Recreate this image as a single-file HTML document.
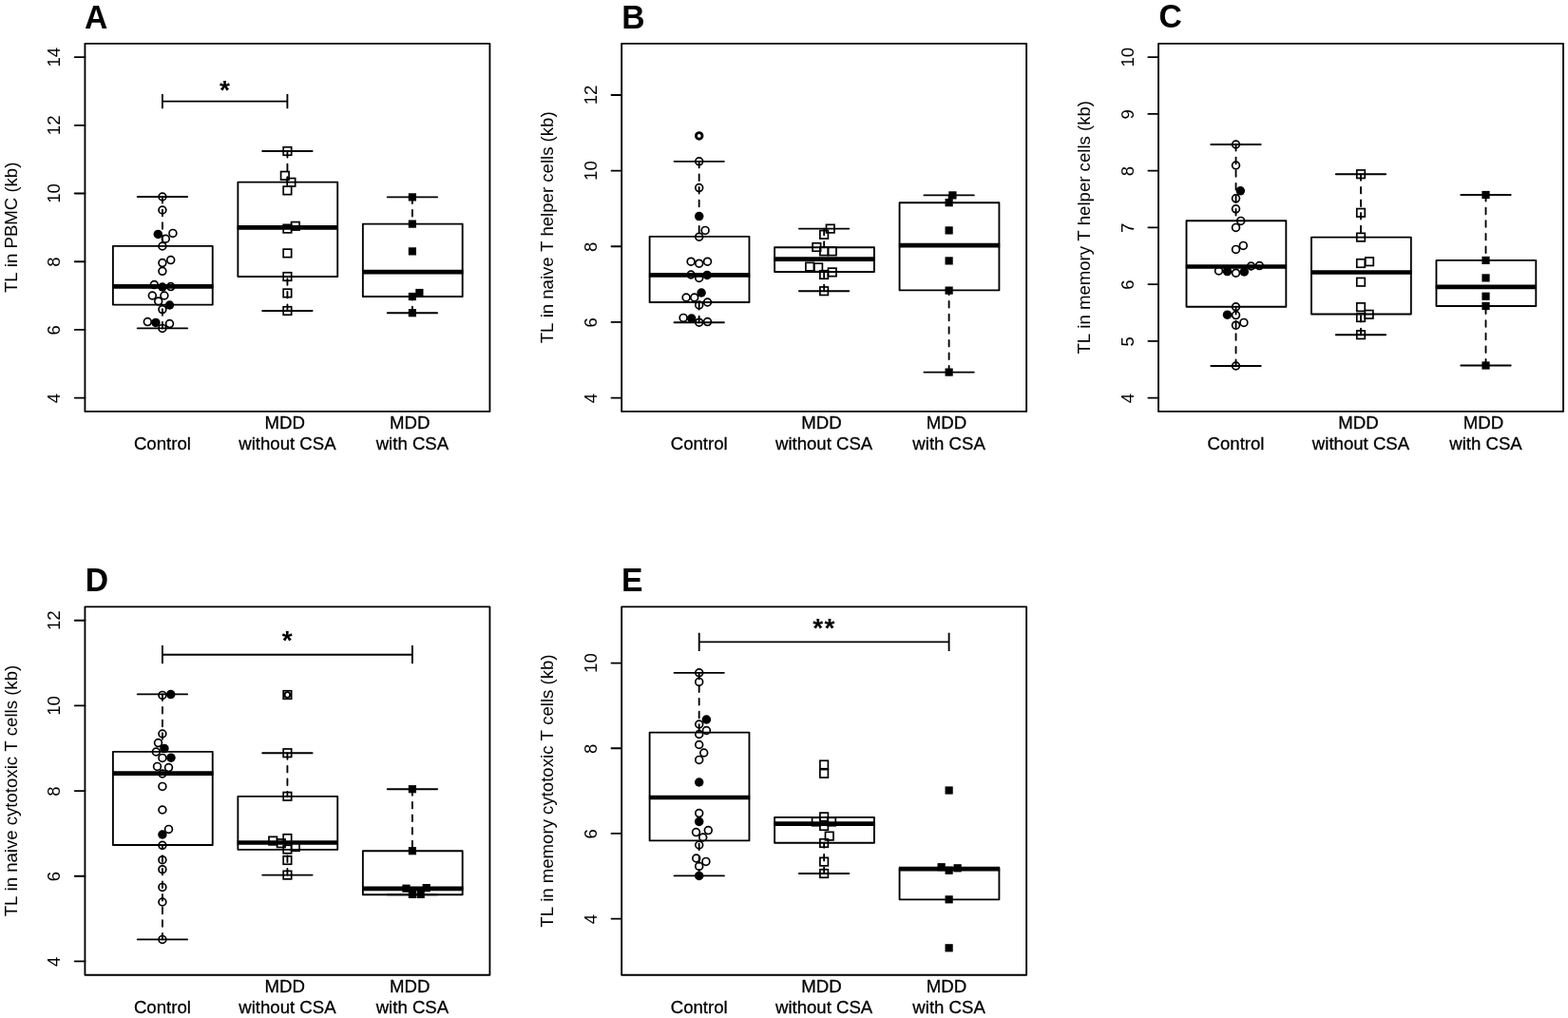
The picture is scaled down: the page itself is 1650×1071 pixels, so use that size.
<!DOCTYPE html>
<html lang="en">
<head>
<meta charset="utf-8">
<title>Telomere length box plots</title>
<style>
html,body{margin:0;padding:0;background:#fff;}
svg{display:block;}
.s{fill:none;stroke:#000;stroke-width:1.85;stroke-linejoin:round;}
.p{fill:none;stroke:#000;stroke-width:1.7;}
.l{fill:none;stroke:#000;stroke-width:1.85;stroke-linecap:butt;}
.d{fill:none;stroke:#000;stroke-width:1.85;stroke-dasharray:6.6 7.0;stroke-linecap:round;}
.r{fill:none;stroke:#000;stroke-width:1.85;stroke-linecap:round;}
.t{font-kerning:none;font-family:"Liberation Sans",Arial,Helvetica,sans-serif;font-size:18.6px;fill:#000;}
.m{text-anchor:middle;}
.h{stroke:#000;stroke-width:0.28px;}
.pl{font-family:"Liberation Sans",Arial,Helvetica,sans-serif;font-weight:bold;font-size:33.7px;fill:#000;}
.st{font-family:"Liberation Sans",Arial,Helvetica,sans-serif;font-weight:bold;font-size:28px;fill:#000;}
</style>
</head>
<body>
<svg width="1650" height="1071" viewBox="0 0 1650 1071">
<rect x="0" y="0" width="1650" height="1071" fill="#fff"/>
<g>
<text transform="translate(88.92,29.80) scale(1,1.025)" class="pl">A</text>
<rect x="89.42" y="45.8" width="426.0" height="387.1" class="s" stroke-linejoin="round"/>
<line x1="78.77" y1="60.14" x2="89.42" y2="60.14" class="r"/>
<text transform="translate(62.92,60.14) rotate(-90) scale(1,1.03)" class="t m">14</text>
<line x1="78.77" y1="131.83" x2="89.42" y2="131.83" class="r"/>
<text transform="translate(62.92,131.83) rotate(-90) scale(1,1.03)" class="t m">12</text>
<line x1="78.77" y1="203.51" x2="89.42" y2="203.51" class="r"/>
<text transform="translate(62.92,203.51) rotate(-90) scale(1,1.03)" class="t m">10</text>
<line x1="78.77" y1="275.2" x2="89.42" y2="275.2" class="r"/>
<text transform="translate(62.92,275.65) rotate(-90) scale(1,1.03)" class="t m">8</text>
<line x1="78.77" y1="346.88" x2="89.42" y2="346.88" class="r"/>
<text transform="translate(62.92,347.33) rotate(-90) scale(1,1.03)" class="t m">6</text>
<line x1="78.77" y1="418.56" x2="89.42" y2="418.56" class="r"/>
<text transform="translate(62.92,419.01) rotate(-90) scale(1,1.03)" class="t m">4</text>
<text transform="translate(17.77,239.3) rotate(-90) scale(1,1.03)" class="t m">TL in PBMC (kb)</text>
<text transform="translate(170.9,473.4) scale(1,1.03)" class="t m h">Control</text>
<text transform="translate(299.8,451.0) scale(1,1.03)" class="t m h">MDD</text>
<text transform="translate(302.4,473.4) scale(1,1.03)" class="t m h">without CSA</text>
<text transform="translate(431.3,451.0) scale(1,1.03)" class="t m h">MDD</text>
<text transform="translate(433.9,473.4) scale(1,1.03)" class="t m h">with CSA</text>
<line x1="170.94" y1="207" x2="170.94" y2="258.8" class="d"/>
<line x1="170.94" y1="345.4" x2="170.94" y2="320.6" class="d"/>
<line x1="144.7" y1="207" x2="197.1" y2="207" class="r"/>
<line x1="144.7" y1="345.4" x2="197.1" y2="345.4" class="r"/>
<rect x="118.89" y="258.8" width="104.84" height="61.8" class="s" stroke-linejoin="round"/>
<line x1="118.17" y1="301.4" x2="224.46" y2="301.4" stroke="#000" stroke-width="4.7"/>
<line x1="302.42" y1="159" x2="302.42" y2="191.6" class="d"/>
<line x1="302.42" y1="327" x2="302.42" y2="291" class="d"/>
<line x1="276.2" y1="159" x2="328.6" y2="159" class="r"/>
<line x1="276.2" y1="327" x2="328.6" y2="327" class="r"/>
<rect x="250.37" y="191.6" width="104.84" height="99.4" class="s" stroke-linejoin="round"/>
<line x1="249.64" y1="239.4" x2="355.94" y2="239.4" stroke="#000" stroke-width="4.7"/>
<line x1="433.9" y1="207.4" x2="433.9" y2="235.6" class="d"/>
<line x1="433.9" y1="329.2" x2="433.9" y2="312" class="d"/>
<line x1="407.7" y1="207.4" x2="460.1" y2="207.4" class="r"/>
<line x1="407.7" y1="329.2" x2="460.1" y2="329.2" class="r"/>
<rect x="381.85" y="235.6" width="104.84" height="76.4" class="s" stroke-linejoin="round"/>
<line x1="381.12" y1="286.2" x2="487.42" y2="286.2" stroke="#000" stroke-width="4.7"/>
<circle cx="170.9" cy="207.0" r="3.9" class="p"/>
<circle cx="170.9" cy="221.0" r="3.9" class="p"/>
<circle cx="166.3" cy="246.4" r="4.75" fill="#000"/>
<circle cx="181.9" cy="245.4" r="3.9" class="p"/>
<circle cx="174.3" cy="251.2" r="3.9" class="p"/>
<circle cx="170.9" cy="259.0" r="3.9" class="p"/>
<circle cx="179.7" cy="273.6" r="3.9" class="p"/>
<circle cx="170.9" cy="276.6" r="3.9" class="p"/>
<circle cx="170.9" cy="285.3" r="3.9" class="p"/>
<circle cx="162.3" cy="299.6" r="3.9" class="p"/>
<circle cx="170.9" cy="302.0" r="4.75" fill="#000"/>
<circle cx="179.7" cy="301.6" r="3.9" class="p"/>
<circle cx="160.3" cy="311.0" r="3.9" class="p"/>
<circle cx="172.9" cy="311.0" r="3.9" class="p"/>
<circle cx="166.7" cy="317.0" r="3.9" class="p"/>
<circle cx="178.5" cy="321.0" r="4.75" fill="#000"/>
<circle cx="170.9" cy="325.6" r="3.9" class="p"/>
<circle cx="155.3" cy="338.6" r="3.9" class="p"/>
<circle cx="163.9" cy="339.4" r="4.75" fill="#000"/>
<circle cx="178.5" cy="340.6" r="3.9" class="p"/>
<circle cx="170.9" cy="345.4" r="3.9" class="p"/>
<rect x="298.17" y="154.75" width="8.5" height="8.5" class="p"/>
<rect x="295.57" y="180.55" width="8.5" height="8.5" class="p"/>
<rect x="302.17" y="187.55" width="8.5" height="8.5" class="p"/>
<rect x="298.17" y="196.15" width="8.5" height="8.5" class="p"/>
<rect x="306.57" y="233.55" width="8.5" height="8.5" class="p"/>
<rect x="298.17" y="236.35" width="8.5" height="8.5" class="p"/>
<rect x="298.17" y="262.15" width="8.5" height="8.5" class="p"/>
<rect x="298.17" y="286.75" width="8.5" height="8.5" class="p"/>
<rect x="298.17" y="304.15" width="8.5" height="8.5" class="p"/>
<rect x="298.17" y="322.75" width="8.5" height="8.5" class="p"/>
<rect x="429.80" y="203.30" width="8.2" height="8.2" fill="#000"/>
<rect x="429.80" y="231.50" width="8.2" height="8.2" fill="#000"/>
<rect x="429.80" y="260.30" width="8.2" height="8.2" fill="#000"/>
<rect x="429.80" y="307.90" width="8.2" height="8.2" fill="#000"/>
<rect x="437.30" y="303.90" width="8.2" height="8.2" fill="#000"/>
<rect x="429.80" y="325.10" width="8.2" height="8.2" fill="#000"/>
<path d="M170.9 98.89999999999999V114.3M170.9 106.6H302.4M302.4 98.89999999999999V114.3" class="l"/>
<text x="236.43" y="103.8" class="st m">*</text>
</g>
<g>
<text transform="translate(654.34,29.80) scale(1,1.025)" class="pl">B</text>
<rect x="654.14" y="45.8" width="426.0" height="387.1" class="s" stroke-linejoin="round"/>
<line x1="643.49" y1="99.96" x2="654.14" y2="99.96" class="r"/>
<text transform="translate(627.64,99.96) rotate(-90) scale(1,1.03)" class="t m">12</text>
<line x1="643.49" y1="179.61" x2="654.14" y2="179.61" class="r"/>
<text transform="translate(627.64,179.61) rotate(-90) scale(1,1.03)" class="t m">10</text>
<line x1="643.49" y1="259.26" x2="654.14" y2="259.26" class="r"/>
<text transform="translate(627.64,259.71) rotate(-90) scale(1,1.03)" class="t m">8</text>
<line x1="643.49" y1="338.91" x2="654.14" y2="338.91" class="r"/>
<text transform="translate(627.64,339.36) rotate(-90) scale(1,1.03)" class="t m">6</text>
<line x1="643.49" y1="418.56" x2="654.14" y2="418.56" class="r"/>
<text transform="translate(627.64,419.01) rotate(-90) scale(1,1.03)" class="t m">4</text>
<text transform="translate(582.49,239.3) rotate(-90) scale(1,1.03)" class="t m">TL in naive T helper cells (kb)</text>
<text transform="translate(735.7,473.4) scale(1,1.03)" class="t m h">Control</text>
<text transform="translate(864.5,451.0) scale(1,1.03)" class="t m h">MDD</text>
<text transform="translate(867.1,473.4) scale(1,1.03)" class="t m h">without CSA</text>
<text transform="translate(996.0,451.0) scale(1,1.03)" class="t m h">MDD</text>
<text transform="translate(998.6,473.4) scale(1,1.03)" class="t m h">with CSA</text>
<line x1="735.66" y1="169.8" x2="735.66" y2="248.8" class="d"/>
<line x1="735.66" y1="339.2" x2="735.66" y2="318" class="d"/>
<line x1="709.5" y1="169.8" x2="761.9" y2="169.8" class="r"/>
<line x1="709.5" y1="339.2" x2="761.9" y2="339.2" class="r"/>
<rect x="683.61" y="248.8" width="104.84" height="69.2" class="s" stroke-linejoin="round"/>
<line x1="682.89" y1="289.4" x2="789.17" y2="289.4" stroke="#000" stroke-width="4.7"/>
<line x1="867.14" y1="240.6" x2="867.14" y2="260.2" class="d"/>
<line x1="867.14" y1="306.2" x2="867.14" y2="286" class="d"/>
<line x1="840.9" y1="240.6" x2="893.3" y2="240.6" class="r"/>
<line x1="840.9" y1="306.2" x2="893.3" y2="306.2" class="r"/>
<rect x="815.09" y="260.2" width="104.84" height="25.8" class="s" stroke-linejoin="round"/>
<line x1="814.37" y1="272.6" x2="920.65" y2="272.6" stroke="#000" stroke-width="4.7"/>
<line x1="998.62" y1="205.4" x2="998.62" y2="213.2" class="d"/>
<line x1="998.62" y1="391.6" x2="998.62" y2="305.4" class="d"/>
<line x1="972.4" y1="205.4" x2="1024.8" y2="205.4" class="r"/>
<line x1="972.4" y1="391.6" x2="1024.8" y2="391.6" class="r"/>
<rect x="946.57" y="213.2" width="104.84" height="92.2" class="s" stroke-linejoin="round"/>
<line x1="945.85" y1="258.2" x2="1052.13" y2="258.2" stroke="#000" stroke-width="4.7"/>
<circle cx="735.7" cy="142.9" r="2.85" fill="none" stroke="#000" stroke-width="1.9"/>
<circle cx="735.7" cy="142.9" r="3.9" class="p"/>
<circle cx="735.7" cy="169.8" r="3.9" class="p"/>
<circle cx="735.7" cy="197.6" r="3.9" class="p"/>
<circle cx="735.7" cy="227.6" r="4.75" fill="#000"/>
<circle cx="742.1" cy="242.4" r="3.9" class="p"/>
<circle cx="735.7" cy="249.2" r="3.9" class="p"/>
<circle cx="727.1" cy="275.2" r="3.9" class="p"/>
<circle cx="735.7" cy="277.2" r="3.9" class="p"/>
<circle cx="744.5" cy="275.2" r="3.9" class="p"/>
<circle cx="727.1" cy="289.0" r="3.9" class="p"/>
<circle cx="735.7" cy="292.4" r="3.9" class="p"/>
<circle cx="744.1" cy="289.4" r="4.75" fill="#000"/>
<circle cx="738.1" cy="308.0" r="4.75" fill="#000"/>
<circle cx="722.1" cy="313.0" r="3.9" class="p"/>
<circle cx="730.7" cy="313.0" r="3.9" class="p"/>
<circle cx="744.5" cy="318.0" r="3.9" class="p"/>
<circle cx="735.7" cy="321.0" r="3.9" class="p"/>
<circle cx="719.1" cy="334.4" r="3.9" class="p"/>
<circle cx="727.7" cy="335.0" r="4.75" fill="#000"/>
<circle cx="735.7" cy="339.2" r="3.9" class="p"/>
<circle cx="744.5" cy="338.6" r="3.9" class="p"/>
<rect x="869.49" y="236.35" width="8.5" height="8.5" class="p"/>
<rect x="862.89" y="242.55" width="8.5" height="8.5" class="p"/>
<rect x="855.09" y="255.75" width="8.5" height="8.5" class="p"/>
<rect x="862.89" y="260.15" width="8.5" height="8.5" class="p"/>
<rect x="871.49" y="260.15" width="8.5" height="8.5" class="p"/>
<rect x="847.89" y="276.35" width="8.5" height="8.5" class="p"/>
<rect x="856.89" y="277.15" width="8.5" height="8.5" class="p"/>
<rect x="871.49" y="282.15" width="8.5" height="8.5" class="p"/>
<rect x="862.89" y="284.75" width="8.5" height="8.5" class="p"/>
<rect x="862.89" y="301.95" width="8.5" height="8.5" class="p"/>
<rect x="998.32" y="201.30" width="8.2" height="8.2" fill="#000"/>
<rect x="994.52" y="209.10" width="8.2" height="8.2" fill="#000"/>
<rect x="994.52" y="238.30" width="8.2" height="8.2" fill="#000"/>
<rect x="994.52" y="270.30" width="8.2" height="8.2" fill="#000"/>
<rect x="994.52" y="301.50" width="8.2" height="8.2" fill="#000"/>
<rect x="994.52" y="387.50" width="8.2" height="8.2" fill="#000"/>
</g>
<g>
<text transform="translate(1219.42,29.30) scale(1,1.025)" class="pl">C</text>
<rect x="1219.02" y="45.8" width="426.0" height="387.1" class="s" stroke-linejoin="round"/>
<line x1="1208.37" y1="60.14" x2="1219.02" y2="60.14" class="r"/>
<text transform="translate(1192.52,60.14) rotate(-90) scale(1,1.03)" class="t m">10</text>
<line x1="1208.37" y1="119.88" x2="1219.02" y2="119.88" class="r"/>
<text transform="translate(1192.52,120.33) rotate(-90) scale(1,1.03)" class="t m">9</text>
<line x1="1208.37" y1="179.62" x2="1219.02" y2="179.62" class="r"/>
<text transform="translate(1192.52,180.07) rotate(-90) scale(1,1.03)" class="t m">8</text>
<line x1="1208.37" y1="239.35" x2="1219.02" y2="239.35" class="r"/>
<text transform="translate(1192.52,239.80) rotate(-90) scale(1,1.03)" class="t m">7</text>
<line x1="1208.37" y1="299.09" x2="1219.02" y2="299.09" class="r"/>
<text transform="translate(1192.52,299.54) rotate(-90) scale(1,1.03)" class="t m">6</text>
<line x1="1208.37" y1="358.83" x2="1219.02" y2="358.83" class="r"/>
<text transform="translate(1192.52,359.28) rotate(-90) scale(1,1.03)" class="t m">5</text>
<line x1="1208.37" y1="418.56" x2="1219.02" y2="418.56" class="r"/>
<text transform="translate(1192.52,419.01) rotate(-90) scale(1,1.03)" class="t m">4</text>
<text transform="translate(1147.37,239.3) rotate(-90) scale(1,1.03)" class="t m">TL in memory T helper cells (kb)</text>
<text transform="translate(1300.5,473.4) scale(1,1.03)" class="t m h">Control</text>
<text transform="translate(1429.4,451.0) scale(1,1.03)" class="t m h">MDD</text>
<text transform="translate(1432.0,473.4) scale(1,1.03)" class="t m h">without CSA</text>
<text transform="translate(1560.9,451.0) scale(1,1.03)" class="t m h">MDD</text>
<text transform="translate(1563.5,473.4) scale(1,1.03)" class="t m h">with CSA</text>
<line x1="1300.54" y1="152" x2="1300.54" y2="232.2" class="d"/>
<line x1="1300.54" y1="385" x2="1300.54" y2="322.7" class="d"/>
<line x1="1274.3" y1="152" x2="1326.7" y2="152" class="r"/>
<line x1="1274.3" y1="385" x2="1326.7" y2="385" class="r"/>
<rect x="1248.49" y="232.2" width="104.84" height="90.5" class="s" stroke-linejoin="round"/>
<line x1="1247.76" y1="280.5" x2="1354.05" y2="280.5" stroke="#000" stroke-width="4.7"/>
<line x1="1432.02" y1="183.2" x2="1432.02" y2="249.6" class="d"/>
<line x1="1432.02" y1="352.2" x2="1432.02" y2="330.5" class="d"/>
<line x1="1405.8" y1="183.2" x2="1458.2" y2="183.2" class="r"/>
<line x1="1405.8" y1="352.2" x2="1458.2" y2="352.2" class="r"/>
<rect x="1379.97" y="249.6" width="104.84" height="80.9" class="s" stroke-linejoin="round"/>
<line x1="1379.24" y1="286.5" x2="1485.53" y2="286.5" stroke="#000" stroke-width="4.7"/>
<line x1="1563.5" y1="205" x2="1563.5" y2="273.9" class="d"/>
<line x1="1563.5" y1="384.5" x2="1563.5" y2="322" class="d"/>
<line x1="1537.3" y1="205" x2="1589.7" y2="205" class="r"/>
<line x1="1537.3" y1="384.5" x2="1589.7" y2="384.5" class="r"/>
<rect x="1511.45" y="273.9" width="104.84" height="48.1" class="s" stroke-linejoin="round"/>
<line x1="1510.72" y1="301.8" x2="1617.01" y2="301.8" stroke="#000" stroke-width="4.7"/>
<circle cx="1300.5" cy="152.0" r="3.9" class="p"/>
<circle cx="1300.5" cy="174.0" r="3.9" class="p"/>
<circle cx="1305.3" cy="200.8" r="4.75" fill="#000"/>
<circle cx="1300.5" cy="208.8" r="3.9" class="p"/>
<circle cx="1300.5" cy="219.8" r="3.9" class="p"/>
<circle cx="1305.7" cy="232.4" r="3.9" class="p"/>
<circle cx="1300.5" cy="239.4" r="3.9" class="p"/>
<circle cx="1308.3" cy="258.4" r="3.9" class="p"/>
<circle cx="1300.5" cy="262.4" r="3.9" class="p"/>
<circle cx="1316.5" cy="280.0" r="3.9" class="p"/>
<circle cx="1325.3" cy="279.6" r="3.9" class="p"/>
<circle cx="1282.5" cy="285.0" r="3.9" class="p"/>
<circle cx="1291.5" cy="285.6" r="4.75" fill="#000"/>
<circle cx="1300.5" cy="287.2" r="3.9" class="p"/>
<circle cx="1309.3" cy="286.0" r="4.75" fill="#000"/>
<circle cx="1300.5" cy="322.8" r="3.9" class="p"/>
<circle cx="1291.5" cy="331.2" r="4.75" fill="#000"/>
<circle cx="1300.5" cy="331.6" r="3.9" class="p"/>
<circle cx="1308.9" cy="339.4" r="3.9" class="p"/>
<circle cx="1300.5" cy="342.2" r="3.9" class="p"/>
<circle cx="1300.5" cy="385.0" r="3.9" class="p"/>
<rect x="1427.77" y="178.95" width="8.5" height="8.5" class="p"/>
<rect x="1427.77" y="219.55" width="8.5" height="8.5" class="p"/>
<rect x="1427.77" y="245.35" width="8.5" height="8.5" class="p"/>
<rect x="1436.77" y="270.95" width="8.5" height="8.5" class="p"/>
<rect x="1427.77" y="272.75" width="8.5" height="8.5" class="p"/>
<rect x="1427.77" y="292.45" width="8.5" height="8.5" class="p"/>
<rect x="1427.77" y="318.85" width="8.5" height="8.5" class="p"/>
<rect x="1436.37" y="326.55" width="8.5" height="8.5" class="p"/>
<rect x="1427.77" y="329.75" width="8.5" height="8.5" class="p"/>
<rect x="1427.77" y="347.95" width="8.5" height="8.5" class="p"/>
<rect x="1559.40" y="200.90" width="8.2" height="8.2" fill="#000"/>
<rect x="1559.40" y="269.80" width="8.2" height="8.2" fill="#000"/>
<rect x="1559.40" y="288.30" width="8.2" height="8.2" fill="#000"/>
<rect x="1559.40" y="307.60" width="8.2" height="8.2" fill="#000"/>
<rect x="1559.40" y="317.90" width="8.2" height="8.2" fill="#000"/>
<rect x="1559.40" y="380.40" width="8.2" height="8.2" fill="#000"/>
</g>
<g>
<text transform="translate(89.82,622.43) scale(1,1.025)" class="pl">D</text>
<rect x="89.42" y="638.43" width="426.0" height="387.3" class="s" stroke-linejoin="round"/>
<line x1="78.77" y1="652.78" x2="89.42" y2="652.78" class="r"/>
<text transform="translate(62.92,652.78) rotate(-90) scale(1,1.03)" class="t m">12</text>
<line x1="78.77" y1="742.44" x2="89.42" y2="742.44" class="r"/>
<text transform="translate(62.92,742.44) rotate(-90) scale(1,1.03)" class="t m">10</text>
<line x1="78.77" y1="832.1" x2="89.42" y2="832.1" class="r"/>
<text transform="translate(62.92,832.55) rotate(-90) scale(1,1.03)" class="t m">8</text>
<line x1="78.77" y1="921.75" x2="89.42" y2="921.75" class="r"/>
<text transform="translate(62.92,922.20) rotate(-90) scale(1,1.03)" class="t m">6</text>
<line x1="78.77" y1="1011.41" x2="89.42" y2="1011.41" class="r"/>
<text transform="translate(62.92,1011.86) rotate(-90) scale(1,1.03)" class="t m">4</text>
<text transform="translate(17.77,832.1) rotate(-90) scale(1,1.03)" class="t m">TL in naive cytotoxic T cells (kb)</text>
<text transform="translate(170.9,1066.3) scale(1,1.03)" class="t m h">Control</text>
<text transform="translate(299.8,1043.9) scale(1,1.03)" class="t m h">MDD</text>
<text transform="translate(302.4,1066.3) scale(1,1.03)" class="t m h">without CSA</text>
<text transform="translate(431.3,1043.9) scale(1,1.03)" class="t m h">MDD</text>
<text transform="translate(433.9,1066.3) scale(1,1.03)" class="t m h">with CSA</text>
<line x1="170.94" y1="730.4" x2="170.94" y2="790.8" class="d"/>
<line x1="170.94" y1="988.4" x2="170.94" y2="889" class="d"/>
<line x1="144.7" y1="730.4" x2="197.1" y2="730.4" class="r"/>
<line x1="144.7" y1="988.4" x2="197.1" y2="988.4" class="r"/>
<rect x="118.89" y="790.8" width="104.84" height="98.2" class="s" stroke-linejoin="round"/>
<line x1="118.17" y1="813.6" x2="224.46" y2="813.6" stroke="#000" stroke-width="4.7"/>
<line x1="302.42" y1="792.2" x2="302.42" y2="837.8" class="d"/>
<line x1="302.42" y1="920.6" x2="302.42" y2="893.8" class="d"/>
<line x1="276.2" y1="792.2" x2="328.6" y2="792.2" class="r"/>
<line x1="276.2" y1="920.6" x2="328.6" y2="920.6" class="r"/>
<rect x="250.37" y="837.8" width="104.84" height="56.0" class="s" stroke-linejoin="round"/>
<line x1="249.64" y1="886.5" x2="355.94" y2="886.5" stroke="#000" stroke-width="4.7"/>
<line x1="433.9" y1="830.2" x2="433.9" y2="895.2" class="d"/>
<line x1="407.7" y1="830.2" x2="460.1" y2="830.2" class="r"/>
<line x1="407.7" y1="941.2" x2="460.1" y2="941.2" class="r"/>
<rect x="381.85" y="895.2" width="104.84" height="46.0" class="s" stroke-linejoin="round"/>
<line x1="381.12" y1="934.8" x2="487.42" y2="934.8" stroke="#000" stroke-width="4.7"/>
<circle cx="302.4" cy="731.0" r="2.85" fill="none" stroke="#000" stroke-width="1.9"/>
<circle cx="170.9" cy="731.4" r="3.9" class="p"/>
<circle cx="179.7" cy="730.6" r="4.75" fill="#000"/>
<circle cx="170.9" cy="772.0" r="3.9" class="p"/>
<circle cx="166.5" cy="781.6" r="3.9" class="p"/>
<circle cx="172.9" cy="787.4" r="4.75" fill="#000"/>
<circle cx="164.3" cy="791.0" r="3.9" class="p"/>
<circle cx="170.9" cy="797.4" r="3.9" class="p"/>
<circle cx="179.9" cy="797.2" r="4.75" fill="#000"/>
<circle cx="165.5" cy="806.4" r="3.9" class="p"/>
<circle cx="177.5" cy="807.6" r="3.9" class="p"/>
<circle cx="170.9" cy="814.0" r="3.9" class="p"/>
<circle cx="170.9" cy="827.4" r="3.9" class="p"/>
<circle cx="170.9" cy="852.0" r="3.9" class="p"/>
<circle cx="177.5" cy="872.4" r="3.9" class="p"/>
<circle cx="170.9" cy="878.0" r="4.75" fill="#000"/>
<circle cx="170.9" cy="889.3" r="3.9" class="p"/>
<circle cx="170.9" cy="904.7" r="3.9" class="p"/>
<circle cx="170.9" cy="914.7" r="3.9" class="p"/>
<circle cx="170.9" cy="933.4" r="3.9" class="p"/>
<circle cx="170.9" cy="949.0" r="3.9" class="p"/>
<circle cx="170.9" cy="988.4" r="3.9" class="p"/>
<rect x="298.17" y="726.75" width="8.5" height="8.5" class="p"/>
<rect x="298.17" y="787.95" width="8.5" height="8.5" class="p"/>
<rect x="298.17" y="833.55" width="8.5" height="8.5" class="p"/>
<rect x="298.17" y="877.75" width="8.5" height="8.5" class="p"/>
<rect x="282.97" y="880.35" width="8.5" height="8.5" class="p"/>
<rect x="291.57" y="882.95" width="8.5" height="8.5" class="p"/>
<rect x="306.57" y="886.75" width="8.5" height="8.5" class="p"/>
<rect x="298.17" y="889.25" width="8.5" height="8.5" class="p"/>
<rect x="298.17" y="900.75" width="8.5" height="8.5" class="p"/>
<rect x="298.17" y="916.35" width="8.5" height="8.5" class="p"/>
<rect x="429.80" y="826.10" width="8.2" height="8.2" fill="#000"/>
<rect x="429.80" y="891.10" width="8.2" height="8.2" fill="#000"/>
<rect x="423.40" y="930.60" width="8.2" height="8.2" fill="#000"/>
<rect x="444.60" y="930.00" width="8.2" height="8.2" fill="#000"/>
<rect x="429.80" y="936.80" width="8.2" height="8.2" fill="#000"/>
<rect x="438.60" y="936.80" width="8.2" height="8.2" fill="#000"/>
<path d="M170.9 679.1V698.3000000000001M170.9 688.7H433.9M433.9 679.1V698.3000000000001" class="l"/>
<text x="302.17" y="682.9" class="st m">*</text>
</g>
<g>
<text transform="translate(654.04,622.43) scale(1,1.025)" class="pl">E</text>
<rect x="654.14" y="638.43" width="426.0" height="387.3" class="s" stroke-linejoin="round"/>
<line x1="643.49" y1="697.61" x2="654.14" y2="697.61" class="r"/>
<text transform="translate(627.64,697.61) rotate(-90) scale(1,1.03)" class="t m">10</text>
<line x1="643.49" y1="787.27" x2="654.14" y2="787.27" class="r"/>
<text transform="translate(627.64,787.72) rotate(-90) scale(1,1.03)" class="t m">8</text>
<line x1="643.49" y1="876.93" x2="654.14" y2="876.93" class="r"/>
<text transform="translate(627.64,877.38) rotate(-90) scale(1,1.03)" class="t m">6</text>
<line x1="643.49" y1="966.58" x2="654.14" y2="966.58" class="r"/>
<text transform="translate(627.64,967.03) rotate(-90) scale(1,1.03)" class="t m">4</text>
<text transform="translate(582.49,832.1) rotate(-90) scale(1,1.03)" class="t m">TL in memory cytotoxic T cells (kb)</text>
<text transform="translate(735.7,1066.3) scale(1,1.03)" class="t m h">Control</text>
<text transform="translate(864.5,1043.9) scale(1,1.03)" class="t m h">MDD</text>
<text transform="translate(867.1,1066.3) scale(1,1.03)" class="t m h">without CSA</text>
<text transform="translate(996.0,1043.9) scale(1,1.03)" class="t m h">MDD</text>
<text transform="translate(998.6,1066.3) scale(1,1.03)" class="t m h">with CSA</text>
<line x1="735.66" y1="707.8" x2="735.66" y2="770.6" class="d"/>
<line x1="735.66" y1="921.4" x2="735.66" y2="884.4" class="d"/>
<line x1="709.5" y1="707.8" x2="761.9" y2="707.8" class="r"/>
<line x1="709.5" y1="921.4" x2="761.9" y2="921.4" class="r"/>
<rect x="683.61" y="770.6" width="104.84" height="113.8" class="s" stroke-linejoin="round"/>
<line x1="682.89" y1="839" x2="789.17" y2="839" stroke="#000" stroke-width="4.7"/>
<line x1="867.14" y1="919" x2="867.14" y2="886.7" class="d"/>
<line x1="840.9" y1="919" x2="893.3" y2="919" class="r"/>
<rect x="815.09" y="859.8" width="104.84" height="26.9" class="s" stroke-linejoin="round"/>
<line x1="814.37" y1="866.7" x2="920.65" y2="866.7" stroke="#000" stroke-width="4.7"/>
<rect x="946.57" y="913.7" width="104.84" height="32.6" class="s" stroke-linejoin="round"/>
<line x1="945.85" y1="914.2" x2="1052.13" y2="914.2" stroke="#000" stroke-width="4.7"/>
<circle cx="735.7" cy="707.8" r="3.9" class="p"/>
<circle cx="735.7" cy="717.4" r="3.9" class="p"/>
<circle cx="743.4" cy="757.0" r="4.75" fill="#000"/>
<circle cx="735.7" cy="762.0" r="3.9" class="p"/>
<circle cx="743.4" cy="768.5" r="3.9" class="p"/>
<circle cx="735.7" cy="772.5" r="3.9" class="p"/>
<circle cx="735.7" cy="783.5" r="3.9" class="p"/>
<circle cx="740.7" cy="792.0" r="3.9" class="p"/>
<circle cx="735.7" cy="799.4" r="3.9" class="p"/>
<circle cx="735.7" cy="823.0" r="4.75" fill="#000"/>
<circle cx="735.7" cy="855.6" r="3.9" class="p"/>
<circle cx="735.7" cy="864.4" r="4.75" fill="#000"/>
<circle cx="732.5" cy="875.6" r="3.9" class="p"/>
<circle cx="745.3" cy="873.6" r="3.9" class="p"/>
<circle cx="739.7" cy="881.0" r="3.9" class="p"/>
<circle cx="735.7" cy="889.0" r="3.9" class="p"/>
<circle cx="732.7" cy="903.0" r="3.9" class="p"/>
<circle cx="742.9" cy="906.4" r="3.9" class="p"/>
<circle cx="735.7" cy="911.4" r="3.9" class="p"/>
<circle cx="735.7" cy="921.4" r="4.75" fill="#000"/>
<rect x="862.89" y="800.25" width="8.5" height="8.5" class="p"/>
<rect x="862.89" y="809.55" width="8.5" height="8.5" class="p"/>
<rect x="862.89" y="855.15" width="8.5" height="8.5" class="p"/>
<rect x="854.59" y="860.25" width="8.5" height="8.5" class="p"/>
<rect x="870.79" y="860.25" width="8.5" height="8.5" class="p"/>
<rect x="862.89" y="864.75" width="8.5" height="8.5" class="p"/>
<rect x="868.49" y="875.35" width="8.5" height="8.5" class="p"/>
<rect x="862.89" y="882.75" width="8.5" height="8.5" class="p"/>
<rect x="862.89" y="902.35" width="8.5" height="8.5" class="p"/>
<rect x="862.89" y="914.75" width="8.5" height="8.5" class="p"/>
<rect x="994.52" y="827.40" width="8.2" height="8.2" fill="#000"/>
<rect x="986.52" y="908.10" width="8.2" height="8.2" fill="#000"/>
<rect x="994.52" y="911.60" width="8.2" height="8.2" fill="#000"/>
<rect x="1003.52" y="909.20" width="8.2" height="8.2" fill="#000"/>
<rect x="994.52" y="942.20" width="8.2" height="8.2" fill="#000"/>
<rect x="994.52" y="993.20" width="8.2" height="8.2" fill="#000"/>
<path d="M735.7 665.6999999999999V684.9M735.7 675.3H998.6M998.6 665.6999999999999V684.9" class="l"/>
<text x="867.64" y="669.6" class="st m" letter-spacing="1.4">**</text>
</g>
</svg>
</body>
</html>
